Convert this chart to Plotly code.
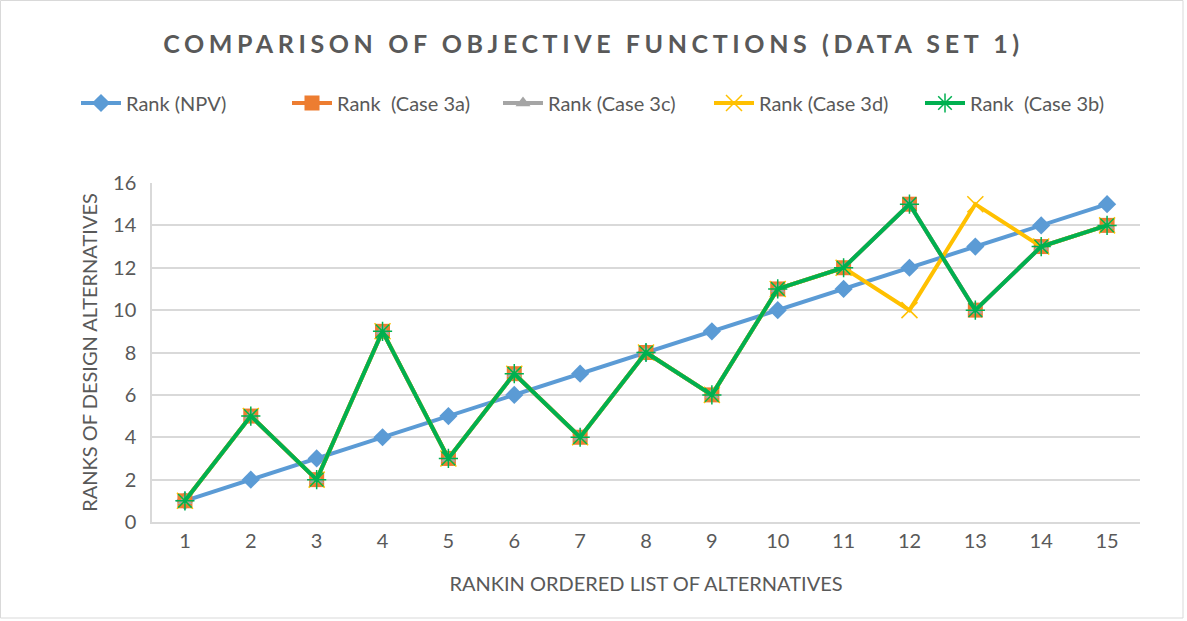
import plotly.graph_objects as go

alternatives = list(range(1, 16))
rank_npv = [1, 2, 3, 4, 5, 6, 7, 8, 9, 10, 11, 12, 13, 14, 15]
rank_3a = [1, 5, 2, 9, 3, 7, 4, 8, 6, 11, 12, 15, 10, 13, 14]
rank_3c = [1, 5, 2, 9, 3, 7, 4, 8, 6, 11, 12, 15, 10, 13, 14]
rank_3d = [1, 5, 2, 9, 3, 7, 4, 8, 6, 11, 12, 10, 15, 13, 14]
rank_3b = [1, 5, 2, 9, 3, 7, 4, 8, 6, 11, 12, 15, 10, 13, 14]

W, H = 1187, 621
L, R, T, B = 152, 47, 183, 99
FONT = "Lato"
GREY = "#595959"

series = [
    ("Rank (NPV)", rank_npv, "#5B9BD5", "diamond", 14, None),
    ("Rank  (Case 3a)", rank_3a, "#ED7D31", "square", 15, None),
    ("Rank (Case 3c)", rank_3c, "#A5A5A5", "triangle-up", 13, None),
    ("Rank (Case 3d)", rank_3d, "#FFC000", "x-thin-open", 16, 1.5),
    ("Rank  (Case 3b)", rank_3b, "#00B050", "asterisk-open", 16, 1.5),
]

fig = go.Figure()
for name, vals, color, sym, size, lw in series:
    marker = dict(symbol=sym, size=size, color=color)
    if lw:
        marker["line"] = dict(color=color, width=lw)
    fig.add_trace(go.Scatter(
        x=alternatives, y=vals, name=name, mode="lines+markers",
        line=dict(color=color, width=4),
        marker=marker,
    ))

pw, ph = W - L - R, H - T - B
# thin frame round the whole chart, like the Excel chart area
fig.add_shape(type="rect", xref="paper", yref="paper",
              x0=-(L - 0.5) / pw, x1=1 + (R - 4) / pw,
              y0=-(B - 3) / ph, y1=1 + (T - 0.5) / ph,
              line=dict(color="#D9D9D9", width=1))

fig.update_layout(
    width=W, height=H,
    margin=dict(l=L, r=R, t=T, b=B),
    paper_bgcolor="white", plot_bgcolor="white",
    font=dict(family=FONT, color=GREY, size=20),
    title=dict(text="<b>COMPARISON OF OBJECTIVE FUNCTIONS (DATA SET 1)</b>",
               x=0.5, xanchor="center", y=1 - 44 / H, yanchor="middle",
               font=dict(size=25, color=GREY, family=FONT)),
    legend=dict(orientation="h", x=-76 / pw, xanchor="left",
                y=1 + (T - 103) / ph, yanchor="middle",
                font=dict(size=20, color=GREY), itemwidth=40,
                entrywidth=156, entrywidthmode="pixels",
                tracegroupgap=0),
    xaxis=dict(range=[0.5, 15.5], tickmode="array", tickvals=alternatives,
               showgrid=False, zeroline=False, showline=True,
               linecolor="#D9D9D9", linewidth=1.5, ticks="",
               title=dict(text="RANKIN ORDERED LIST OF ALTERNATIVES",
                          font=dict(size=20, color=GREY), standoff=26)),
    yaxis=dict(range=[0, 16], dtick=2, showgrid=True, gridcolor="#D9D9D9",
               gridwidth=1.5, zeroline=False, showline=True,
               linecolor="#D9D9D9", linewidth=1.5, ticks="",
               ticklabelstandoff=10,
               title=dict(text="RANKS OF DESIGN ALTERNATIVES",
                          font=dict(size=20, color=GREY), standoff=10)),
)

# drop the default page margin and space out the title letters
js = ("document.body.style.margin='0';"
      "document.querySelectorAll('.gtitle').forEach(function(e){"
      "e.style.letterSpacing='4.6px';});")
fig.write_html("out.html", post_script=js,
               config={"displayModeBar": False})
